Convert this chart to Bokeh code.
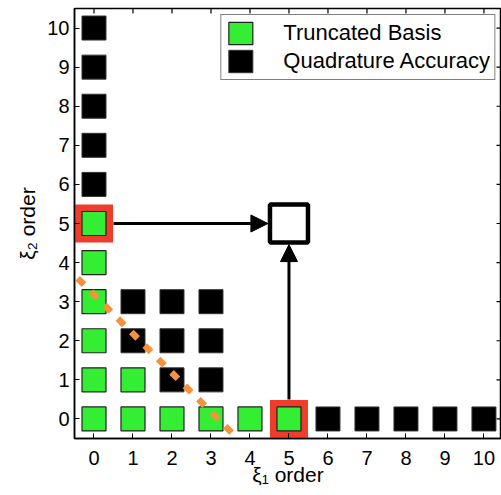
import math
from bokeh.plotting import figure
from bokeh.models import (Arrow, NormalHead, FixedTicker, Legend, LegendItem, Range1d)
from bokeh.embed import file_html
from bokeh.resources import INLINE

# ---- data ----
basis_x = [0, 0, 0, 0, 0, 0, 1, 1, 2, 3, 4, 5]
basis_y = [0, 1, 2, 3, 4, 5, 0, 1, 0, 0, 0, 0]
quad_x = [0, 0, 0, 0, 0, 6, 7, 8, 9, 10, 1, 1, 2, 2, 2, 3, 3, 3]
quad_y = [6, 7, 8, 9, 10, 0, 0, 0, 0, 0, 2, 3, 1, 2, 3, 1, 2, 3]
highlight_x = [0, 5]
highlight_y = [5, 0]
target_x = [5]
target_y = [5]
cut_x = [-0.42, 3.68]
cut_y = [3.6, -0.5]
ticks = list(range(11))

FONT = "Liberation Sans"
GREEN = "#33EE33"
RED = "#F03C2A"
ORANGE = "#F7923A"

X0, X1 = -0.5, 10.45
Y0, Y1 = -0.5, 10.5

p = figure(width=501, height=495, x_range=Range1d(X0, X1), y_range=Range1d(Y0, Y1),
           output_backend="svg", toolbar_location=None,
           min_border_left=74, min_border_right=0, min_border_top=8, min_border_bottom=57)
p.grid.visible = False
p.outline_line_color = "black"
p.outline_line_width = 1.5
p.background_fill_color = "white"

for ax in (p.xaxis[0], p.yaxis[0]):
    ax.ticker = FixedTicker(ticks=ticks)
    ax.major_tick_in = 5
    ax.major_tick_out = 0
    ax.minor_tick_line_color = None
    ax.axis_line_color = "black"
    ax.axis_line_width = 1.5
    ax.major_tick_line_color = "black"
    ax.major_label_text_font = FONT
    ax.major_label_text_font_size = "20px"
    ax.major_label_text_color = "black"
    ax.axis_label_text_font = FONT
    ax.axis_label_text_font_size = "21px"
    ax.axis_label_text_font_style = "normal"
    ax.axis_label_text_color = "black"

p.xaxis.axis_label = "ξ₁ order"
p.yaxis.axis_label = "ξ₂ order"
p.xaxis.major_label_standoff = 12
p.yaxis.major_label_standoff = 5
p.xaxis.axis_label_standoff = -5
p.yaxis.axis_label_standoff = 5

# mirrored inward ticks on top and right edges
p.scatter([X1] * len(ticks), ticks, marker="dash", size=10, line_color="black", line_width=1.2)
p.scatter(ticks, [Y1] * len(ticks), marker="dash", size=10, angle=math.pi / 2,
          line_color="black", line_width=1.2)

# highlight (red) squares behind
p.rect(highlight_x, highlight_y, width=38, height=38, width_units="screen", height_units="screen",
       fill_color=RED, line_color=None)

quad = p.rect(quad_x, quad_y, width=24, height=24, width_units="screen", height_units="screen",
              fill_color="black", line_color="#333333", line_width=1)
basis = p.rect(basis_x, basis_y, width=24, height=24, width_units="screen", height_units="screen",
               fill_color=GREEN, line_color="#222222", line_width=1.2)

# target square
p.rect(target_x, target_y, width=38, height=38, width_units="screen", height_units="screen",
       fill_color="white", line_color="black", line_width=4.5)

# arrows from highlighted points to target
off = 0.5
p.add_layout(Arrow(end=NormalHead(size=17, fill_color="black", line_color="black"),
                   x_start=highlight_x[0] + off, y_start=highlight_y[0],
                   x_end=target_x[0] - off - 0.04, y_end=target_y[0], line_width=3))
p.add_layout(Arrow(end=NormalHead(size=17, fill_color="black", line_color="black"),
                   x_start=highlight_x[1], y_start=highlight_y[1] + off,
                   x_end=target_x[0], y_end=target_y[0] - off - 0.04, line_width=3))

# truncation line
p.line(cut_x, cut_y, line_color=ORANGE, line_width=6.5, line_dash="9 10")

legend = Legend(items=[LegendItem(label="Truncated Basis", renderers=[basis]),
                       LegendItem(label="Quadrature Accuracy", renderers=[quad])],
                location="top_right", label_text_font=FONT, label_text_font_size="22px",
                label_text_color="black", glyph_width=30, glyph_height=28, spacing=0,
                padding=4, label_standoff=28, margin=6, border_line_color="black",
                border_line_width=1.5, background_fill_alpha=1.0)
p.add_layout(legend, "center")

open("out.html", "w").write(file_html(p, INLINE))
